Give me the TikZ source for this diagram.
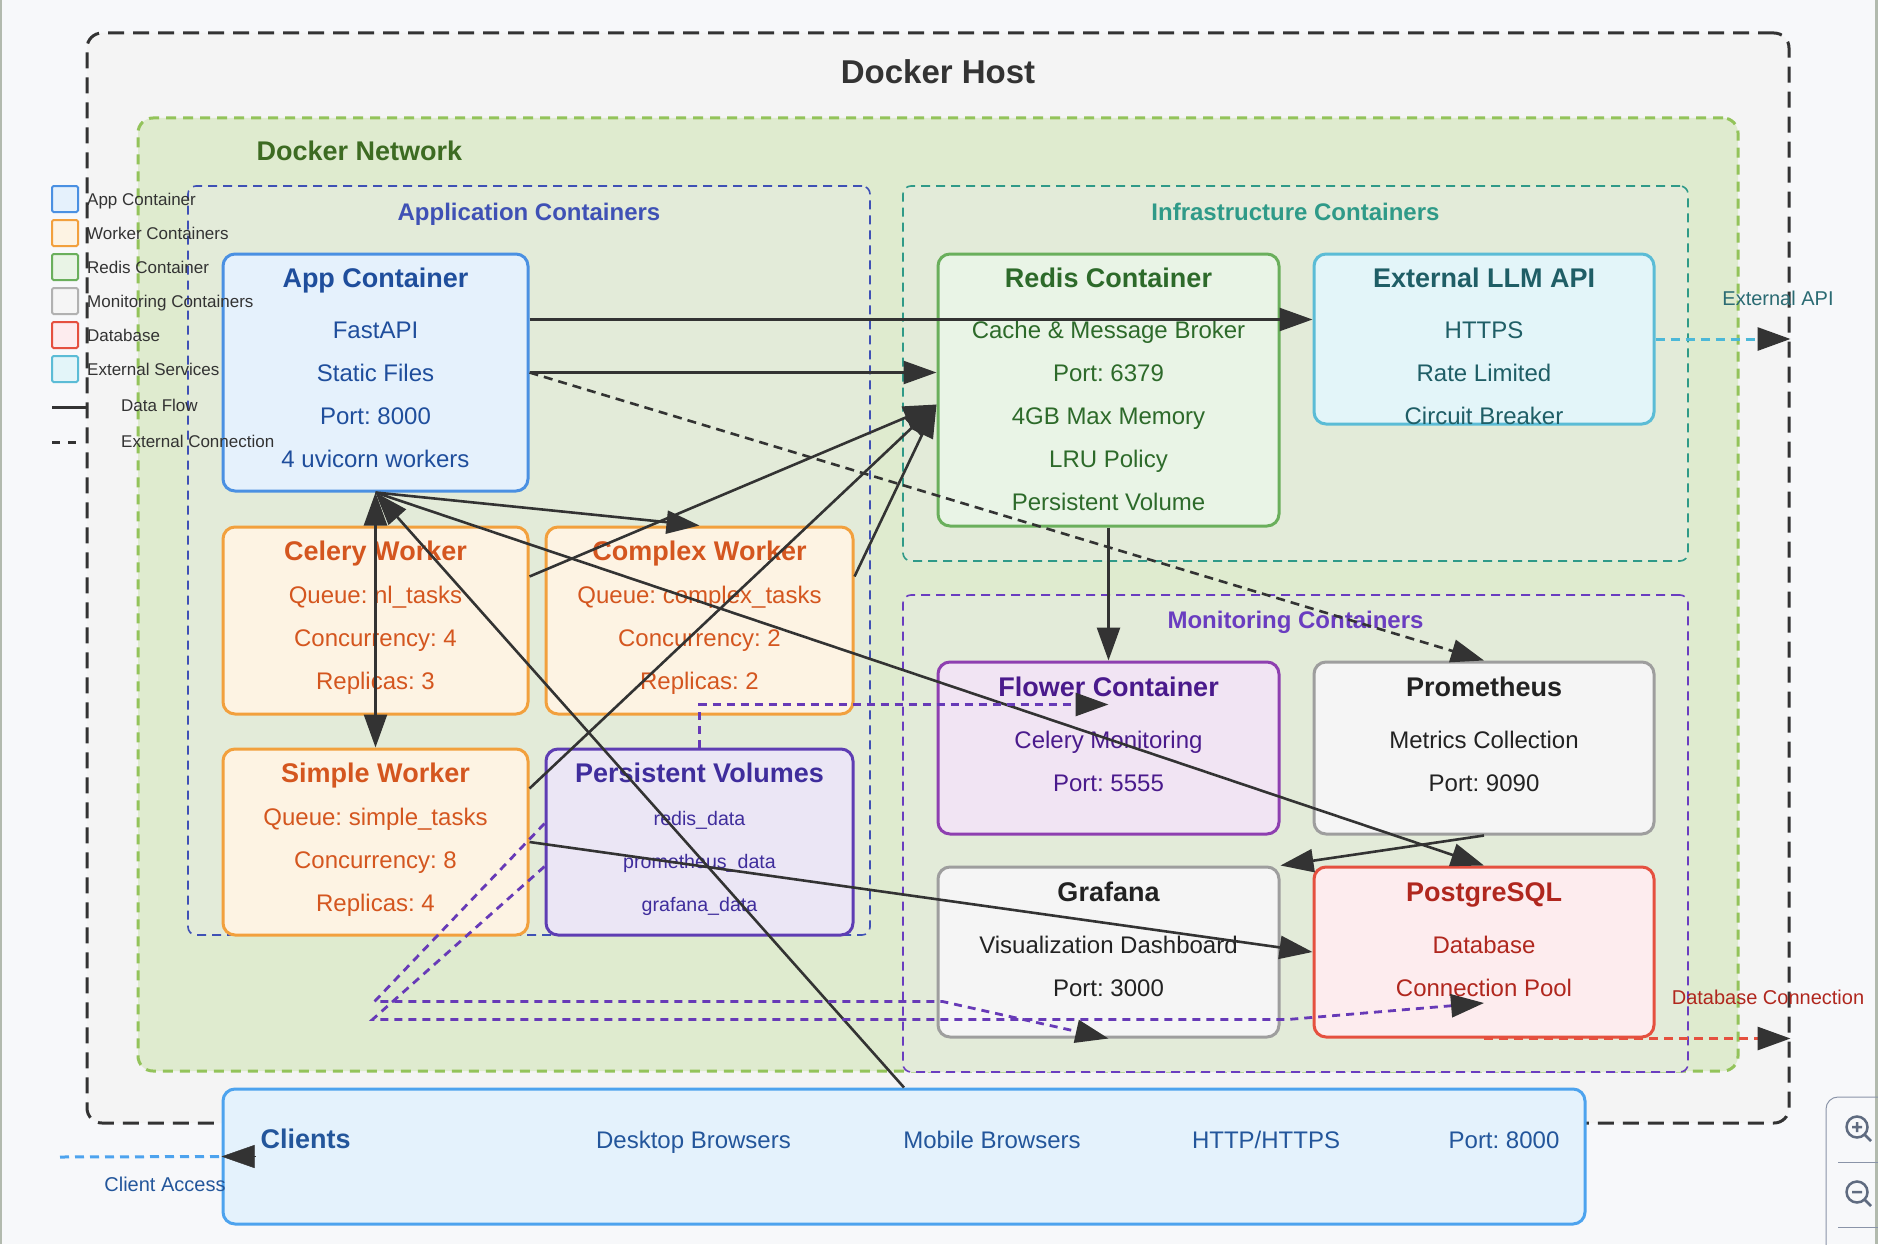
\documentclass[tikz,border=0pt]{standalone}
\usepackage{fontspec}
\setmainfont{Liberation Sans}
\usetikzlibrary{arrows.meta,calc,positioning}
\frenchspacing

\definecolor{pagebg}{HTML}{F7F8FA}
\definecolor{edgegray}{HTML}{B2BAAE}
\definecolor{ink}{HTML}{333333}
\definecolor{hostf}{HTML}{F4F4F4}
\definecolor{netf}{HTML}{DFEBCF}
\definecolor{netb}{HTML}{93C35A}
\definecolor{nett}{HTML}{3D6B22}
\definecolor{grpf}{HTML}{E3EBD9}
\definecolor{appgb}{HTML}{3F51B5}
\definecolor{infgb}{HTML}{2F9A88}
\definecolor{mongb}{HTML}{6A3DC0}
\definecolor{appf}{HTML}{E5F1FC}
\definecolor{appb}{HTML}{4A90E2}
\definecolor{appt}{HTML}{1F4E9C}
\definecolor{workf}{HTML}{FDF3E3}
\definecolor{workb}{HTML}{F2A03D}
\definecolor{workt}{HTML}{D4561F}
\definecolor{redisf}{HTML}{E9F4E6}
\definecolor{redisb}{HTML}{6AAF5C}
\definecolor{redist}{HTML}{2D6A2A}
\definecolor{llmf}{HTML}{E3F5F9}
\definecolor{llmb}{HTML}{5BBCD6}
\definecolor{llmt}{HTML}{1F5E66}
\definecolor{pvf}{HTML}{EBE6F5}
\definecolor{pvb}{HTML}{5E3DB3}
\definecolor{pvt}{HTML}{3F2D9C}
\definecolor{flowerf}{HTML}{F1E4F3}
\definecolor{flowerb}{HTML}{8E3FB0}
\definecolor{flowert}{HTML}{4A1A8C}
\definecolor{monf}{HTML}{F5F5F5}
\definecolor{monb}{HTML}{9E9E9E}
\definecolor{mont}{HTML}{222222}
\definecolor{pgf}{HTML}{FDECEE}
\definecolor{pgb}{HTML}{E5503F}
\definecolor{pgt}{HTML}{B0271E}
\definecolor{clif}{HTML}{E4F2FC}
\definecolor{clib}{HTML}{4DA3EE}
\definecolor{clit}{HTML}{23569B}
\definecolor{volc}{HTML}{673AB7}
\definecolor{apil}{HTML}{4CB8D8}
\definecolor{apit}{HTML}{2B6B73}
\definecolor{uib}{HTML}{8A94A8}
\definecolor{uiicon}{HTML}{5F6B80}

\newcommand{\boxtitle}[1]{{\fontsize{27}{43}\selectfont\bfseries #1}}

\begin{document}
\begin{tikzpicture}[x=1pt,y=-1pt,>={Triangle[length=33pt,width=23pt,color=ink]},
    region/.style={draw,rounded corners=15pt,inner sep=0pt,line width=3pt},
    grp/.style={draw,rounded corners=8pt,inner sep=0pt,line width=1.6pt,dash pattern=on 9pt off 6pt,fill=grpf},
    box/.style={draw,rounded corners=12pt,line width=3pt,inner sep=0pt},
    txt/.style={anchor=north,inner sep=0pt,align=center,font=\fontsize{24}{43}\selectfont},
    grplbl/.style={anchor=base,inner sep=0pt,font=\fontsize{24}{28}\selectfont\bfseries},
    clitxt/.style={anchor=base,inner sep=0pt,text=clit,font=\fontsize{24}{28}\selectfont},
    key/.style={draw,line width=2pt,minimum size=26pt,inner sep=0pt,rounded corners=1.5pt},
    keytxt/.style={anchor=base west,inner sep=0pt,text=ink,font=\fontsize{17}{20}\selectfont},
    elabel/.style={anchor=base,inner sep=0pt,font=\fontsize{20}{24}\selectfont},
    flow/.style={->,draw=ink,line width=2.6pt},
    extflow/.style={line width=3pt,dash pattern=on 9pt off 6pt},
    vol/.style={->,draw=volc,line width=2.8pt,dash pattern=on 8pt off 6pt}]

    \useasboundingbox (0,0) rectangle (1878,1244);
    \fill[pagebg] (0,0) rectangle (1878,1244);
    \fill[edgegray] (0,0) rectangle (2,1244);
    \fill[edgegray] (1875,0) rectangle (1878,1244);

    \node[region,draw=ink,fill=hostf,dash pattern=on 16pt off 9pt,minimum width=1702pt,minimum height=1090pt] (host) at (938,578) {};
    \node[anchor=base,inner sep=0pt,text=ink,font=\fontsize{33}{36}\selectfont\bfseries] (host_t) at ($(host.north)+(0,52)$) {Docker Host};
    \node[region,draw=netb,fill=netf,dash pattern=on 10pt off 7pt,minimum width=1600pt,minimum height=953pt] (net) at (938,594.5) {};
    \node[anchor=base west,inner sep=0pt,text=nett,font=\fontsize{27}{30}\selectfont\bfseries] (net_t) at ($(net.north west)+(120,44)$) {Docker Network};

    \node[grp,draw=appgb,minimum width=682pt,minimum height=749pt] (appgrp) at (529,560.5) {};
    \node[grplbl,text=appgb] (appgrp_t) at ($(appgrp.north)+(0,35)$) {Application Containers};
    \node[grp,draw=infgb,minimum width=785pt,minimum height=375pt] (infra) at (1295.5,373.5) {};
    \node[grplbl,text=infgb] (infra_t) at ($(infra.north)+(0,35)$) {Infrastructure Containers};
    \node[grp,draw=mongb,minimum width=785pt,minimum height=477pt] (mon) at (1295.5,833.5) {};
    \node[grplbl,text=mongb] (mon_t) at ($(mon.north)+(0,34)$) {Monitoring Containers};

    \node[box,draw=appb,fill=appf,minimum width=305pt,minimum height=237pt] (app) at (375.5,372.5) {};
    \node[txt,text=appt] (app_t) at ($(app.north)+(0,15.5)$) {\boxtitle{App Container}\\[8pt]FastAPI\\Static Files\\Port: 8000\\4 uvicorn workers};
    \node[box,draw=redisb,fill=redisf,minimum width=341pt,minimum height=272pt] (redis) at (1108.5,390) {};
    \node[txt,text=redist] (redis_t) at ($(redis.north)+(0,15.5)$) {\boxtitle{Redis Container}\\[8pt]Cache \& Message Broker\\Port: 6379\\4GB Max Memory\\LRU Policy\\Persistent Volume};
    \node[box,draw=llmb,fill=llmf,minimum width=340pt,minimum height=170pt] (llm) at (1484,339) {};
    \node[txt,text=llmt] (llm_t) at ($(llm.north)+(0,15.5)$) {\boxtitle{External LLM API}\\[8pt]HTTPS\\Rate Limited\\Circuit Breaker};

    \node[box,draw=workb,fill=workf,minimum width=305pt,minimum height=187pt] (celery) at (375.5,620.5) {};
    \node[txt,text=workt] (celery_t) at ($(celery.north)+(0,15.5)$) {\boxtitle{Celery Worker}\\Queue: nl\_tasks\\Concurrency: 4\\Replicas: 3};
    \node[box,draw=workb,fill=workf,minimum width=307pt,minimum height=187pt] (complex) at (699.5,620.5) {};
    \node[txt,text=workt] (complex_t) at ($(complex.north)+(0,15.5)$) {\boxtitle{Complex Worker}\\Queue: complex\_tasks\\Concurrency: 2\\Replicas: 2};
    \node[box,draw=workb,fill=workf,minimum width=305pt,minimum height=186pt] (simple) at (375.5,842) {};
    \node[txt,text=workt] (simple_t) at ($(simple.north)+(0,15.5)$) {\boxtitle{Simple Worker}\\Queue: simple\_tasks\\Concurrency: 8\\Replicas: 4};
    \node[box,draw=pvb,fill=pvf,minimum width=307pt,minimum height=186pt] (pv) at (699.5,842) {};
    \node[txt,text=pvt,font=\fontsize{19.6}{43}\selectfont] (pv_t) at ($(pv.north)+(0,15.5)$) {\boxtitle{Persistent Volumes}\\[0pt]redis\_data\\prometheus\_data\\grafana\_data};

    \node[box,draw=flowerb,fill=flowerf,minimum width=341pt,minimum height=172pt] (flower) at (1108.5,748) {};
    \node[txt,text=flowert] (flower_t) at ($(flower.north)+(0,16.5)$) {\boxtitle{Flower Container}\\[9pt]Celery Monitoring\\Port: 5555};
    \node[box,draw=monb,fill=monf,minimum width=340pt,minimum height=172pt] (prom) at (1484,748) {};
    \node[txt,text=mont] (prom_t) at ($(prom.north)+(0,16.5)$) {\boxtitle{Prometheus}\\[9pt]Metrics Collection\\Port: 9090};
    \node[box,draw=monb,fill=monf,minimum width=341pt,minimum height=170pt] (grafana) at (1108.5,952) {};
    \node[txt,text=mont] (grafana_t) at ($(grafana.north)+(0,16.5)$) {\boxtitle{Grafana}\\[9pt]Visualization Dashboard\\Port: 3000};
    \node[box,draw=pgb,fill=pgf,minimum width=340pt,minimum height=170pt] (pg) at (1484,952) {};
    \node[txt,text=pgt] (pg_t) at ($(pg.north)+(0,16.5)$) {\boxtitle{PostgreSQL}\\[9pt]Database\\Connection Pool};

    \node[box,draw=clib,fill=clif,minimum width=1362pt,minimum height=135pt] (clients) at (904,1156.5) {};
    \node[anchor=base west,inner sep=0pt,text=clit,font=\fontsize{27}{30}\selectfont\bfseries] (cli_t) at ($(clients.west)+(39,-8.5)$) {Clients};
    \node[clitxt] (cli_desk) at (693.5,1148) {Desktop Browsers};
    \node[clitxt] (cli_mob) at (992,1148) {Mobile Browsers};
    \node[clitxt] (cli_http) at (1266,1148) {HTTP/HTTPS};
    \node[clitxt] (cli_port) at (1504,1148) {Port: 8000};

    \draw[flow] ($(app.north east)+(0,67)$) -- ($(llm.north west)+(0,67)$);
    \draw[flow] (app.east) -- (app.east -| redis.west);
    \draw[flow,dash pattern=on 9pt off 6pt] (app.east) -- (prom.north);
    \draw[flow] ($(celery.north east)+(0,51)$) -- ($(redis.north west)+(0,152)$);
    \draw[flow] ($(complex.north east)+(0,51)$) -- ($(redis.north west)+(0,152)$);
    \draw[flow] ($(simple.north east)+(0,41)$) -- ($(redis.north west)+(0,152)$);
    \draw[flow] (app.south) -- (complex.north);
    \draw[flow,<->] (app.south) -- (simple.north);
    \draw[flow] (clients.north) -- (app.south);
    \draw[flow] (app.south) -- (pg.north);
    \draw[flow] (prom.south) -- (grafana.north east);
    \draw[flow] (redis.south) -- (flower.north);
    \draw[flow] (simple.east) -- (pg.west);

    \draw[vol] (pv.north) |- ($(flower.north)+(0,44)$);
    \draw[vol] ($(pv.north west)+(0,76)$) -- ++(-170,178) -- ++(568,0) -- (grafana.south);
    \draw[vol] ($(pv.north west)+(0,119)$) -- ++(-172,153) -- ++(915,0) -- ($(pg.center)+(0,51)$);

    \coordinate (access) at (60,1157);
    \draw[extflow,->,draw=apil] (llm.east) -- (llm.east -| host.east);
    \node[elabel,text=apit] (api_l) at (1778,305) {External API};
    \draw[extflow,->,draw=pgb] (pg.south) -- (pg.south -| host.east);
    \node[elabel,text=pgt] (db_l) at (1768,1004) {Database Connection};
    \draw[extflow,draw=clib] (access) -- (clients.west);
    \draw[<-,draw=ink] (clients.west) -- ++(34,0);
    \node[elabel,text=clit] (access_l) at (165,1191) {Client Access};

    \node[key,draw=appb,fill=appf] (k_app) at (65,199) {};
    \node[keytxt] (k_app_t) at (87,205) {App Container};
    \node[key,draw=workb,fill=workf] (k_work) at (65,233) {};
    \node[keytxt] (k_work_t) at (87,239) {Worker Containers};
    \node[key,draw=redisb,fill=redisf] (k_redis) at (65,267) {};
    \node[keytxt] (k_redis_t) at (87,273) {Redis Container};
    \node[key,draw=monb!80,fill=monf] (k_mon) at (65,301) {};
    \node[keytxt] (k_mon_t) at (87,307) {Monitoring Containers};
    \node[key,draw=pgb,fill=pgf] (k_db) at (65,335) {};
    \node[keytxt] (k_db_t) at (87,341) {Database};
    \node[key,draw=llmb,fill=llmf] (k_ext) at (65,369) {};
    \node[keytxt] (k_ext_t) at (87,375) {External Services};
    \coordinate (k_flow_a) at (52,407);
    \coordinate (k_flow_b) at (87,407);
    \draw[ink,line width=3pt] (k_flow_a) -- (k_flow_b);
    \node[keytxt] (k_flow_t) at (121,411) {Data Flow};
    \coordinate (k_ext_a) at (52,442);
    \coordinate (k_ext_b) at (78,442);
    \draw[ink,line width=3pt,dash pattern=on 8pt off 8pt] (k_ext_a) -- (k_ext_b);
    \node[keytxt] (k_extc_t) at (121,447) {External Connection};

    \draw[uib,line width=1pt,rounded corners=12pt] (1880,1097) -- (1826,1097) -- (1826,1250);
    \draw[uib,line width=1pt] (1838,1162) -- (1878,1162) (1838,1227) -- (1878,1227);
    \draw[uiicon,line width=2.5pt] (1857,1127) circle (10.5) (1865,1135) -- (1871,1141)
        (1852,1127) -- (1862,1127) (1857,1122) -- (1857,1132);
    \draw[uiicon,line width=2.5pt] (1857,1192) circle (10.5) (1865,1200) -- (1871,1206)
        (1852,1192) -- (1862,1192);
\end{tikzpicture}
\end{document}
